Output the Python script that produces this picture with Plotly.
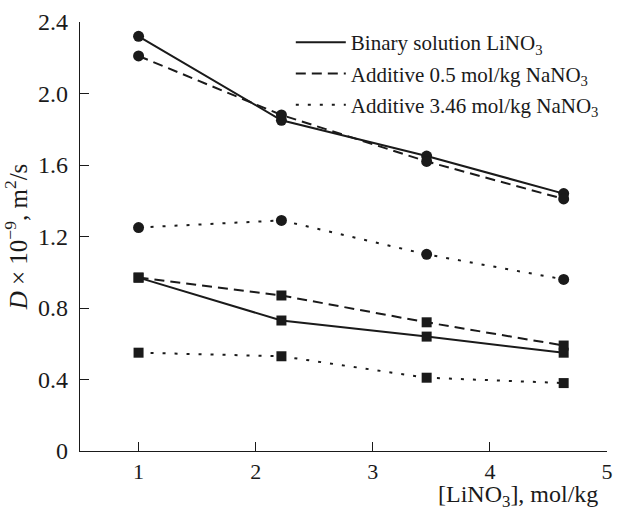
import plotly.graph_objects as go

# Data
conc = [1.0, 2.22, 3.46, 4.63]
binary_circ = [2.32, 1.85, 1.65, 1.44]
add05_circ = [2.21, 1.88, 1.62, 1.41]
add346_circ = [1.25, 1.29, 1.10, 0.96]
binary_sq = [0.97, 0.73, 0.64, 0.55]
add05_sq = [0.97, 0.87, 0.72, 0.59]
add346_sq = [0.55, 0.53, 0.41, 0.38]

series_names = ["Binary solution LiNO<sub>3</sub>",
                "Additive 0.5 mol/kg NaNO<sub>3</sub>",
                "Additive 3.46 mol/kg NaNO<sub>3</sub>"]
y_tickvals = [0, 0.4, 0.8, 1.2, 1.6, 2.0, 2.4]
y_ticktext = ["0", "0.4", "0.8", "1.2", "1.6", "2.0", "2.4"]
x_tickvals = [1, 2, 3, 4, 5]

FONT = "Liberation Serif, Times New Roman, serif"
INK = "#1a1a1a"
dashes = ["solid", "10px,6px", "3px,9px"]

fig = go.Figure()
groups = [(binary_circ, binary_sq), (add05_circ, add05_sq), (add346_circ, add346_sq)]
for i, (circ, sq) in enumerate(groups):
    fig.add_trace(go.Scatter(x=conc, y=circ, mode="lines+markers",
                             line=dict(color=INK, width=2, dash=dashes[i]),
                             marker=dict(symbol="circle", size=11, color=INK),
                             showlegend=False, cliponaxis=False))
    fig.add_trace(go.Scatter(x=conc, y=sq, mode="lines+markers",
                             line=dict(color=INK, width=2, dash=dashes[i]),
                             marker=dict(symbol="square", size=10, color=INK),
                             showlegend=False, cliponaxis=False))
for i, name in enumerate(series_names):
    fig.add_trace(go.Scatter(x=[None], y=[None], mode="lines", name=name,
                             legendgroup=str(i),
                             line=dict(color=INK, width=2, dash=dashes[i])))

fig.update_layout(
    width=621, height=510,
    margin=dict(l=80, r=8, t=22, b=59),
    paper_bgcolor="white", plot_bgcolor="white",
    font=dict(family=FONT, size=22, color=INK),
    legend=dict(x=0.40, y=1.0, xanchor="left", yanchor="top",
                font=dict(family=FONT, size=21, color=INK),
                bgcolor="rgba(0,0,0,0)", tracegroupgap=1,
                itemwidth=50),
    xaxis=dict(range=[0.5, 5.0], tickvals=x_tickvals, showgrid=False, zeroline=False,
               showline=True, linecolor=INK, linewidth=1.3,
               ticks="inside", ticklen=9, tickcolor=INK,
               ticklabelstandoff=0,
               tickfont=dict(family=FONT, size=22)),
    yaxis=dict(range=[0, 2.4], tickvals=y_tickvals, ticktext=y_ticktext,
               showgrid=False, zeroline=False,
               showline=True, linecolor=INK, linewidth=1.3,
               ticks="inside", ticklen=9, tickcolor=INK,
               ticklabelstandoff=6,
               tickfont=dict(family=FONT, size=24),
               title=dict(text="<i>D</i> × 10<sup>−9</sup>, m<sup>2</sup>/s",
                          font=dict(family=FONT, size=25), standoff=4)),
    annotations=[dict(text="[LiNO<sub>3</sub>], mol/kg", xref="paper", yref="paper",
                      x=0.985, y=0, xanchor="right", yanchor="top", yshift=-29,
                      borderpad=0,
                      showarrow=False, font=dict(family=FONT, size=24, color=INK))],
)

fig.write_html("out.html")
